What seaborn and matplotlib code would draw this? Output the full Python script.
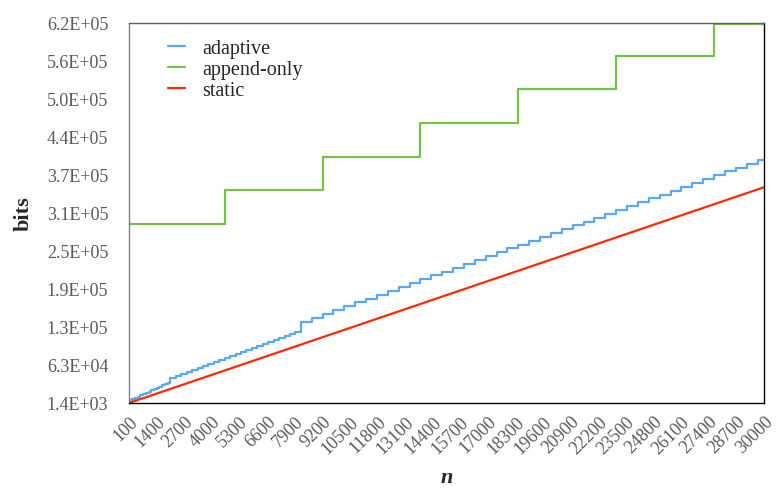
import matplotlib
matplotlib.use("Agg")
import matplotlib.pyplot as plt
import pandas as pd
import seaborn as sns

# adaptive: step breakpoints (n where a new level starts) and level in bits
adaptive_n = [100, 128, 256, 384, 512, 640, 768, 896, 1024, 1152, 1280, 1408, 1536, 1664, 1792, 1920,
              2048, 2304, 2560, 2816, 3072, 3328, 3584, 3840, 4096, 4352, 4608, 4864, 5120, 5376,
              5632, 5888, 6144, 6400, 6656, 6912, 7168, 7424, 7680, 7936,
              8192, 8704, 9216, 9728, 10240, 10752, 11264, 11776, 12288, 12800, 13312, 13824,
              14336, 14848, 15360, 15872, 16384, 16896, 17408, 17920, 18432, 18944, 19456, 19968,
              20480, 20992, 21504, 22016, 22528, 23040, 23552, 24064, 24576, 25088, 25600, 26112,
              26624, 27136, 27648, 28160, 28672, 29184, 29696, 30000]
adaptive_bits = [4000, 6000, 8000, 10000, 12000, 14000, 16000, 18000, 20000, 22000, 24000, 26000,
                 28000, 30000, 32000, 34000,
                 42700, 45900, 49100, 52400, 55600, 58800, 62000, 65300, 68500, 71700, 74900, 78100,
                 81400, 84600, 87800, 91000, 94300, 97500, 100700, 103900, 107100, 110400, 113600, 116800,
                 134100, 140400, 146700, 153000, 159200, 165500, 171800, 178100, 184400, 190700,
                 197000, 203200, 209500, 215800, 222100, 228400, 234700, 241000, 247200, 253500,
                 259800, 266100, 272400, 278700, 284900, 291200, 297500, 303800, 310100, 316400,
                 322700, 328900, 335200, 341500, 347800, 354100, 360400, 366600, 372900, 379200,
                 385500, 391800, 398100, 398100]

# append-only: jumps to a bigger allocation
append_n = [100, 4608, 9216, 13824, 18432, 23040, 27648, 30000]
append_bits = [293500, 349000, 403500, 458000, 513000, 567500, 620500, 620500]

# static: straight line
static_n = [100, 30000]
static_bits = [1400, 353400]

x_ticks = [100, 1400, 2700, 4000, 5300, 6600, 7900, 9200, 10500, 11800, 13100, 14400,
           15700, 17000, 18300, 19600, 20900, 22200, 23500, 24800, 26100, 27400, 28700, 30000]
y_ticks = [1400, 63400, 125400, 187400, 249400, 311400, 373400, 435400, 497400, 559400, 621400]
y_labels = ["1.4E+03", "6.3E+04", "1.3E+05", "1.9E+05", "2.5E+05", "3.1E+05",
            "3.7E+05", "4.4E+05", "5.0E+05", "5.6E+05", "6.2E+05"]

sns.set_style("white")
plt.rcParams['font.family'] = ['Liberation Serif', 'DejaVu Serif']

fig = plt.figure(figsize=(7.8, 4.89), dpi=100)
ax = fig.add_axes([129 / 780, 1 - 404 / 489, 635 / 780, 380 / 489])

series = [
    ("adaptive", adaptive_n, adaptive_bits, "#5aa8f2", "steps-post"),
    ("append-only", append_n, append_bits, "#76c043", "steps-post"),
    ("static", static_n, static_bits, "#ff2a00", "default"),
]
for name, xs, ys, color, ds in series:
    df = pd.DataFrame({"n": xs, "bits": ys})
    sns.lineplot(data=df, x="n", y="bits", ax=ax, color=color, linewidth=1.6,
                 drawstyle=ds, estimator=None, label=name)

ax.set_xlim(100, 30000)
ax.set_ylim(1400, 621400)
ax.set_xticks(x_ticks)
ax.set_xticklabels([str(t) for t in x_ticks], rotation=45, ha="right",
                   rotation_mode="anchor", fontsize=13, color="#595959")
ax.set_yticks(y_ticks)
ax.set_yticklabels(y_labels, fontsize=13, color="#595959")
ax.tick_params(axis="y", length=0, pad=15)
ax.tick_params(axis="x", length=0, pad=7)

ax.set_xlabel("n", fontsize=16, fontweight="bold", fontstyle="italic")
ax.set_ylabel("bits", fontsize=16, fontweight="bold")
ax.xaxis.set_label_coords(0.5, -0.168)
ax.yaxis.set_label_coords(-0.15, 0.5)

ax.spines["left"].set_color("#808080")
ax.spines["top"].set_color("#606060")
ax.spines["right"].set_color("black")
ax.spines["bottom"].set_color("black")
for s in ax.spines.values():
    s.set_linewidth(1.0)

ax.legend(loc="upper left", bbox_to_anchor=(0.061, 0.958), frameon=False, fontsize=14.5,
          handlelength=0.85, handletextpad=0.85, labelspacing=0.1, borderpad=0, borderaxespad=0)

fig.savefig("out.png", dpi=100)
